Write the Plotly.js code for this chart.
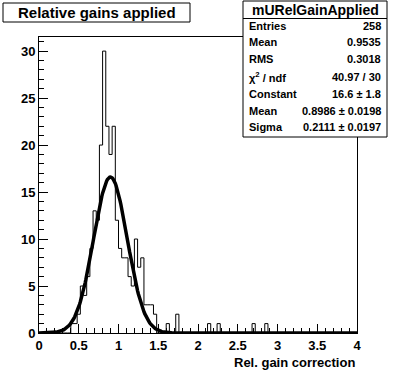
<!DOCTYPE html>
<html>
<head>
<meta charset="utf-8">
<script src="https://cdn.plot.ly/plotly-3.0.1.min.js"></script>
<style>
  html, body { margin: 0; padding: 0; background: #fff; }
  #chart { width: 396px; height: 372px; }
</style>
</head>
<body>
<div id="chart"></div>
<script>
// ---------------- data ----------------
const histTitle = "Relative gains applied";
const histName = "mURelGainApplied";
const xTitle = "Rel. gain correction";
const xMin = 0, xMax = 4, nBins = 100;
// bin contents (100 bins of width 0.04 from 0 to 4)
const counts = [
  0, 0, 0, 0, 0, 0, 0, 0, 0, 0,
  1, 1, 2, 5, 4, 6, 9, 13, 12, 20,
  30, 22, 19, 22, 12, 9, 8, 8, 6, 5,
  10, 7, 8, 3, 3, 3, 2, 0, 0, 0,
  1, 0, 0, 2, 0, 0, 0, 0, 0, 0,
  0, 0, 0, 1, 0, 0, 1, 0, 0, 0,
  0, 0, 0, 0, 0, 0, 0, 1, 0, 0,
  0, 1, 0, 0, 0, 0, 0, 0, 0, 0,
  0, 0, 0, 0, 0, 0, 0, 0, 0, 0,
  0, 0, 0, 0, 0, 0, 0, 0, 0, 0
];
// fitted gaussian parameters (from the stats box)
const fitConstant = 16.6, fitMean = 0.8986, fitSigma = 0.2111;
// stats box rows
const statLabels = ["Entries", "Mean", "RMS", "&#967;<sup>2</sup> / ndf", "Constant", "Mean", "Sigma"];
const statValues = ["258", "0.9535", "0.3018", "40.97 / 30", "16.6 &#177; 1.8", "0.8986 &#177; 0.0198", "0.2111 &#177; 0.0197"];

// ---------------- build traces ----------------
const bw = (xMax - xMin) / nBins;
const hx = [], hy = [];
for (let i = 0; i < nBins; i++) { hx.push(xMin + i * bw); hy.push(counts[i]); }
hx.push(xMax); hy.push(counts[nBins - 1]);

const fx = [], fy = [];
const nf = 400;
for (let i = 0; i <= nf; i++) {
  const x = xMin + (xMax - xMin) * i / nf;
  fx.push(x);
  fy.push(fitConstant * Math.exp(-0.5 * Math.pow((x - fitMean) / fitSigma, 2)));
}

const traces = [
  { x: hx, y: hy, type: 'scatter', mode: 'lines', line: { shape: 'hv', color: 'black', width: 1 }, hoverinfo: 'skip' },
  { x: fx, y: fy, type: 'scatter', mode: 'lines', line: { color: 'black', width: 3.5 }, hoverinfo: 'skip' }
];

// ---------------- layout helpers (pixel -> paper) ----------------
const W = 396, H = 372, L = 39, R = 39, T = 37, B = 39;
const pw = W - L - R, ph = H - T - B;
const px = v => (v - L) / pw;
const py = v => (H - B - v) / ph;

const FONT = 'Liberation Sans, Arial, Helvetica, sans-serif';

const shapes = [
  // title box
  { type: 'rect', xref: 'paper', yref: 'paper', x0: px(3), x1: px(190), y0: py(22), y1: py(3), line: { color: 'black', width: 1 }, fillcolor: 'white', layer: 'above' },
  // stats box
  { type: 'rect', xref: 'paper', yref: 'paper', x0: px(243), x1: px(387), y0: py(137), y1: py(1), line: { color: 'black', width: 1 }, fillcolor: 'white', layer: 'above' },
  { type: 'line', xref: 'paper', yref: 'paper', x0: px(243), x1: px(387), y0: py(18.5), y1: py(18.5), line: { color: 'black', width: 1 }, layer: 'above' }
];

const annotations = [
  { xref: 'paper', yref: 'paper', x: px(96.5), y: py(12.5), xanchor: 'center', yanchor: 'middle', showarrow: false,
    text: '<b>' + histTitle + '</b>', font: { family: FONT, size: 15, color: 'black' } },
  { xref: 'paper', yref: 'paper', x: px(315), y: py(10), xanchor: 'center', yanchor: 'middle', showarrow: false,
    text: '<b>' + histName + '</b>', font: { family: FONT, size: 14, color: 'black' } },
  { xref: 'paper', yref: 'paper', x: px(357), y: py(362), xanchor: 'right', yanchor: 'middle', showarrow: false,
    text: '<b>' + xTitle + '</b>', font: { family: FONT, size: 13, color: 'black' } }
];
statLabels.forEach((lab, i) => {
  const yy = 25.5 + i * 17;
  annotations.push({ xref: 'paper', yref: 'paper', x: px(247), y: py(yy), xanchor: 'left', yanchor: 'middle', showarrow: false,
    text: '<b>' + lab + '</b>', font: { family: FONT, size: 11, color: 'black' } });
  annotations.push({ xref: 'paper', yref: 'paper', x: px(383), y: py(yy), xanchor: 'right', yanchor: 'middle', showarrow: false,
    text: '<b>' + statValues[i] + '</b>', font: { family: FONT, size: 11, color: 'black' } });
});

const layout = {
  width: W, height: H,
  margin: { l: L, r: R, t: T, b: B, pad: 0 },
  paper_bgcolor: 'white', plot_bgcolor: 'white',
  showlegend: false,
  xaxis: {
    range: [xMin, xMax], dtick: 0.5, tick0: 0, ticks: 'inside', ticklen: 9, tickcolor: 'black', tickwidth: 1,
    minor: { dtick: 0.1, tick0: 0, ticks: 'inside', ticklen: 5, tickcolor: 'black', showgrid: false },
    showgrid: false, zeroline: false, showline: true, mirror: true, linecolor: 'black', linewidth: 1,
    tickfont: { family: FONT, size: 13, color: 'black', weight: 700 }, fixedrange: true
  },
  yaxis: {
    range: [0, 31.5], dtick: 5, tick0: 0, ticks: 'inside', ticklen: 9, tickcolor: 'black', tickwidth: 1,
    minor: { dtick: 1, tick0: 0, ticks: 'inside', ticklen: 5, tickcolor: 'black', showgrid: false },
    showgrid: false, zeroline: false, showline: true, mirror: true, linecolor: 'black', linewidth: 1,
    tickfont: { family: FONT, size: 13, color: 'black', weight: 700 }, fixedrange: true
  },
  shapes: shapes,
  annotations: annotations
};

Plotly.newPlot('chart', traces, layout, { staticPlot: true, displayModeBar: false });
</script>
</body>
</html>
